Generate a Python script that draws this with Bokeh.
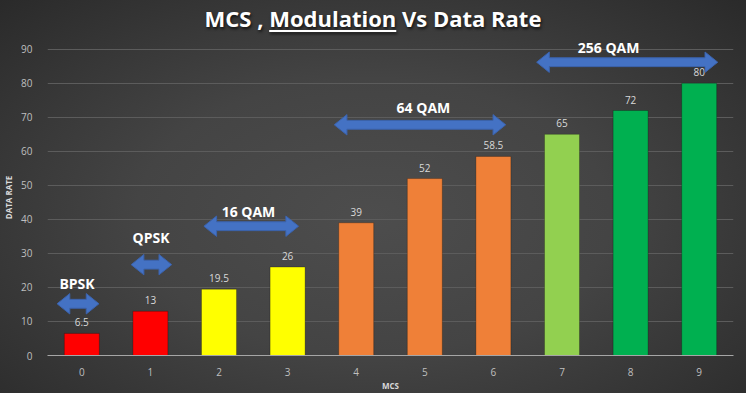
from bokeh.plotting import figure
from bokeh.models import ColumnDataSource, Range1d, FixedTicker, Div
from bokeh.layouts import column
from bokeh.embed import file_html
from bokeh.resources import INLINE
from bokeh.core.properties import value

# ---- data ----
mcs = [0, 1, 2, 3, 4, 5, 6, 7, 8, 9]
data_rate = [6.5, 13, 19.5, 26, 39, 52, 58.5, 65, 72, 80]
rate_labels = ["6.5", "13", "19.5", "26", "39", "52", "58.5", "65", "72", "80"]
bar_colors = ["#ff0000", "#ff0000", "#ffff00", "#ffff00", "#ef8038",
              "#ef8038", "#ef8038", "#92d050", "#00b050", "#00b050"]
y_ticks = [0, 10, 20, 30, 40, 50, 60, 70, 80, 90]

mod_names = ["BPSK", "QPSK", "16 QAM", "64 QAM", "256 QAM"]
mod_start = [-0.36, 0.72, 1.78, 3.68, 6.63]
mod_end = [0.25, 1.31, 3.16, 6.18, 9.27]
mod_arrow_y = [15.2, 26.7, 38.0, 67.8, 86.2]
mod_label_x = [-0.07, 1.01, 2.43, 4.98, 7.68]
mod_label_y = [21.2, 34.8, 42.2, 73.0, 90.4]

FONT = "Open Sans"

# ---- arrow shapes (style constants) ----
HEAD_LEN = 0.185   # x units
HEAD_HALF = 3.0    # y units
SHAFT_HALF = 1.3   # y units


def arrow_poly(x0, x1, yc):
    xs = [x0, x0 + HEAD_LEN, x0 + HEAD_LEN, x1 - HEAD_LEN, x1 - HEAD_LEN, x1,
          x1 - HEAD_LEN, x1 - HEAD_LEN, x0 + HEAD_LEN, x0 + HEAD_LEN]
    ys = [yc, yc + HEAD_HALF, yc + SHAFT_HALF, yc + SHAFT_HALF, yc + HEAD_HALF, yc,
          yc - HEAD_HALF, yc - SHAFT_HALF, yc - SHAFT_HALF, yc - HEAD_HALF]
    return xs, ys


arrow_xs, arrow_ys = [], []
for a, b, c in zip(mod_start, mod_end, mod_arrow_y):
    xs, ys = arrow_poly(a, b, c)
    arrow_xs.append(xs)
    arrow_ys.append(ys)

bars = ColumnDataSource(dict(mcs=mcs, rate=data_rate, label=rate_labels, color=bar_colors))
arrows = ColumnDataSource(dict(xs=arrow_xs, ys=arrow_ys))
mods = ColumnDataSource(dict(x=mod_label_x, y=mod_label_y, name=mod_names))

title = Div(
    text='MCS , <u style="text-underline-offset:3px;text-decoration-thickness:1.5px">Modulation</u> Vs Data Rate',
    width=736, height=29,
    styles={"font-family": "'Open Sans', sans-serif", "font-size": "22px", "font-weight": "bold",
            "color": "#ffffff", "text-align": "center", "line-height": "26px",
            "text-shadow": "1px 2px 3px rgba(0,0,0,0.7)"},
)

p = figure(width=736, height=354, x_range=Range1d(-0.5, 9.5), y_range=Range1d(0, 92.87),
           output_backend="svg", toolbar_location=None,
           min_border_left=39, min_border_right=3, min_border_top=0, min_border_bottom=31)
p.background_fill_alpha = 0
p.border_fill_alpha = 0
p.outline_line_color = None

p.xgrid.visible = False
p.ygrid.ticker = FixedTicker(ticks=y_ticks)
p.ygrid.grid_line_color = "#5c5c5c"
p.ygrid.grid_line_width = 1

p.yaxis.ticker = FixedTicker(ticks=y_ticks)
p.yaxis.axis_line_color = None
p.yaxis.major_tick_line_color = None
p.yaxis.minor_tick_line_color = None
p.yaxis.major_label_text_color = "#bfbfbf"
p.yaxis.major_label_text_font = FONT
p.yaxis.major_label_text_font_size = "10px"
p.yaxis.major_label_standoff = 9
p.yaxis.axis_label = "DATA RATE"
p.yaxis.axis_label_text_font = FONT
p.yaxis.axis_label_text_font_size = "8px"
p.yaxis.axis_label_text_font_style = "bold"
p.yaxis.axis_label_text_color = "#d9d9d9"
p.yaxis.axis_label_standoff = 4

p.xaxis.ticker = FixedTicker(ticks=mcs)
p.xaxis.axis_line_color = "#a6a6a6"
p.xaxis.axis_line_width = 1
p.xaxis.major_tick_line_color = None
p.xaxis.minor_tick_line_color = None
p.xaxis.major_label_text_color = "#bfbfbf"
p.xaxis.major_label_text_font = FONT
p.xaxis.major_label_text_font_size = "10px"
p.xaxis.major_label_standoff = 6
p.xaxis.axis_label = "MCS"
p.xaxis.axis_label_text_font = FONT
p.xaxis.axis_label_text_font_size = "8px"
p.xaxis.axis_label_text_font_style = "bold"
p.xaxis.axis_label_text_color = "#d9d9d9"
p.xaxis.axis_label_standoff = 1

p.vbar(x="mcs", top="rate", width=0.51, source=bars, fill_color="color",
       line_color="black", line_alpha=0.25, line_width=1)

p.text(x="mcs", y="rate", text="label", source=bars, text_align="center",
       text_baseline="middle", y_offset=-11, text_font=value(FONT),
       text_font_size="10px", text_color="#d9d9d9")

p.patches(xs="xs", ys="ys", source=arrows, fill_color="#4472c4", line_color="#3b63ad",
          line_width=1)

p.text(x="x", y="y", text="name", source=mods, text_align="center",
       text_baseline="middle", text_font=value(FONT), text_font_style="bold",
       text_font_size="14px", text_color="#ffffff")

layout = column(title, p, spacing=0,
                styles={"background": "radial-gradient(ellipse at 50% 55%, #4d4d4d 0%, #444444 45%, #2a2a2a 100%)"})

open("out.html", "w").write(file_html(layout, INLINE))
